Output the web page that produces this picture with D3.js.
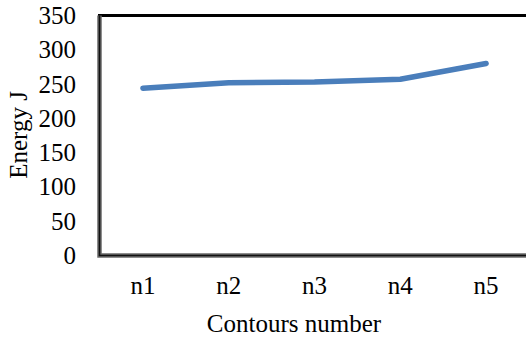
<!DOCTYPE html>
<meta charset="utf-8">
<style>
  body { margin: 0; background: #fff; }
  svg { display: block; }
  text { font-family: "Liberation Serif", "Times New Roman", serif; fill: #000; }
</style>
<script src="https://d3js.org/d3.v7.min.js"></script>
<body>
<svg id="chart" width="526" height="338"></svg>
<script>
// data
var contours = ["n1", "n2", "n3", "n4", "n5"];
var energy = [244, 252, 253, 257, 280];
var yTicks = [0, 50, 100, 150, 200, 250, 300, 350];

var W = 526, H = 338;
// plot edges (note: "top" is a reserved window name, so prefixed)
var plotL = 100, plotT = 15.5, plotB = 255.5, plotR = 529;

var svg = d3.select("#chart");

var x = d3.scaleBand().domain(contours).range([plotL, plotR]);
var y = d3.scaleLinear().domain([0, 350]).range([plotB, plotT]);

// y tick labels
svg.append("g").selectAll("text")
  .data(yTicks).enter().append("text")
  .attr("x", 76)
  .attr("y", d => y(d) + 8.5)
  .attr("text-anchor", "end")
  .style("font-size", "25px")
  .text(d => d);

// x tick labels
svg.append("g").selectAll("text")
  .data(contours).enter().append("text")
  .attr("x", d => x(d) + x.bandwidth() / 2)
  .attr("y", 294)
  .attr("text-anchor", "middle")
  .style("font-size", "25px")
  .text(d => d);

// axis titles
svg.append("text")
  .attr("x", 294).attr("y", 332)
  .attr("text-anchor", "middle")
  .style("font-size", "25px")
  .text("Contours number");

svg.append("text")
  .attr("transform", "translate(27,135) rotate(-90)")
  .attr("text-anchor", "middle")
  .style("font-size", "25px")
  .text("Energy J");

// frame: heavy black top, shaded left and bottom
svg.append("line")
  .attr("x1", plotL - 2).attr("x2", W)
  .attr("y1", y(350)).attr("y2", y(350))
  .attr("stroke", "#000").attr("stroke-width", 3);

var frame = "M" + (plotL - 0.5) + "," + plotT + "V" + plotB + "H" + W;
svg.append("path").attr("d", frame)
  .attr("fill", "none").attr("stroke", "#6a6a6a").attr("stroke-width", 4.5);
svg.append("path").attr("d", frame)
  .attr("fill", "none").attr("stroke", "#111").attr("stroke-width", 1.6);

// series line
var line = d3.line()
  .x((d, i) => x(contours[i]) + x.bandwidth() / 2)
  .y(d => y(d));

svg.append("path")
  .datum(energy)
  .attr("d", line)
  .attr("fill", "none")
  .attr("stroke", "#4a7ebb")
  .attr("stroke-width", 5.5)
  .attr("stroke-linecap", "round")
  .attr("stroke-linejoin", "round");
</script>
</body>
